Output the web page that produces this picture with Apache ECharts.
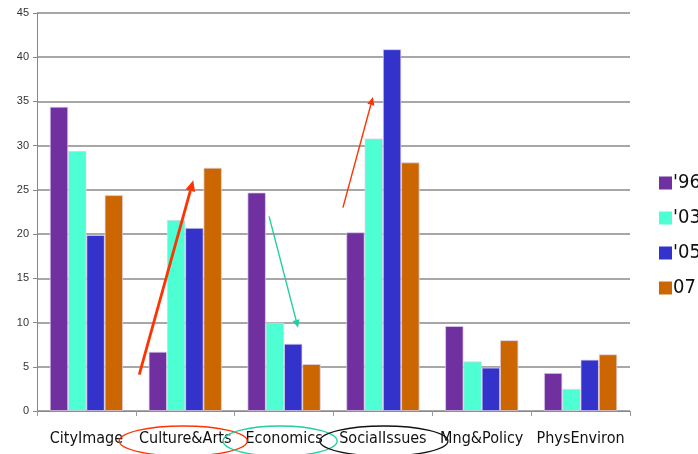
<!DOCTYPE html>
<html><head><meta charset="utf-8">
<script src="https://cdn.jsdelivr.net/npm/echarts@6/dist/echarts.min.js"></script>
<style>html,body{margin:0;padding:0;background:#fff}#c{width:698px;height:454px}</style>
</head><body><div id="c"></div>
<script>
const categories = ['CityImage','Culture&Arts','Economics','SocialIssues','Mng&Policy','PhysEnviron'];
const seriesNames = ["'96","'03","'05","07"];
const s96 = [34.4, 6.7, 24.7, 20.2, 9.6, 4.3];
const s03 = [29.4, 21.6, 10.0, 30.8, 5.6, 2.5];
const s05 = [19.9, 20.7, 7.6, 40.9, 4.9, 5.8];
const s07 = [24.4, 27.5, 5.3, 28.1, 8.0, 6.4];
const yTicks = [0,5,10,15,20,25,30,35,40,45];

const colors = ['#7030A0','#4DFFD2','#3333CC','#CC6600'];
const font = '"Liberation Sans Narrow","DejaVu Sans Condensed","Liberation Sans",Arial,sans-serif';
const chart = echarts.init(document.getElementById('c'));
const data = [s96,s03,s05,s07];
chart.setOption({
  animation:false,
  color:colors,
  grid:{left:37,right:68,top:13,bottom:43},
  legend:{orient:'vertical',left:654,top:168,itemWidth:13,itemHeight:13,itemGap:15,
    icon:'rect',itemStyle:{borderWidth:0},
    textStyle:{fontSize:20,lineHeight:20,color:'#111',fontFamily:font,padding:[0,0,0,-4]}},
  xAxis:{type:'category',data:categories,
    axisLine:{lineStyle:{color:'#888'}},
    axisTick:{show:true,interval:0,length:5,lineStyle:{color:'#999'}},
    axisLabel:{interval:0,fontSize:16,color:'#111',fontFamily:font,margin:20}},
  yAxis:{type:'value',min:yTicks[0],max:yTicks[yTicks.length-1],interval:5,
    axisLine:{show:true,lineStyle:{color:'#888'}},
    axisTick:{show:true,length:4,lineStyle:{color:'#888'}},
    axisLabel:{fontSize:11,color:'#333',fontFamily:'"Liberation Sans",Arial,sans-serif',margin:8},
    splitLine:{lineStyle:{color:'#8a8a8a',width:1.5}}},
  series:data.map((d,i)=>({name:seriesNames[i],type:'bar',data:d,barGap:'0%',barCategoryGap:'26%',
    itemStyle:{borderColor:'rgba(220,210,235,0.9)',borderWidth:0.8}}))
});

function px(cat,val){return chart.convertToPixel({xAxisIndex:0,yAxisIndex:0},[cat,val]);}
function arrow(cat,x0,v0,x1,v1,color,w,head){
  const a=px(cat,v0), b=px(cat,v1);
  const p0=[a[0]+x0,a[1]], p1=[b[0]+x1,b[1]];
  const ang=Math.atan2(p1[1]-p0[1],p1[0]-p0[0]);
  const h=head, hw=head*0.45;
  const base=[p1[0]-h*Math.cos(ang),p1[1]-h*Math.sin(ang)];
  const l=[base[0]+hw*Math.sin(ang),base[1]-hw*Math.cos(ang)];
  const r=[base[0]-hw*Math.sin(ang),base[1]+hw*Math.cos(ang)];
  return [
    {type:'line',shape:{x1:p0[0],y1:p0[1],x2:base[0],y2:base[1]},style:{stroke:color,lineWidth:w},z:100},
    {type:'polygon',shape:{points:[p1,l,r]},style:{fill:color},z:100}
  ];
}
function ell(cat,dx,cy,rx,ry,color){
  const c=px(cat,0);
  return {type:'ellipse',shape:{cx:c[0]+dx,cy:cy,rx:rx,ry:ry},style:{fill:null,stroke:color,lineWidth:1.3},z:100};
}
const g=[].concat(
  arrow(1,-46,4.1,8,26.1,'#FF3300',2.8,11),
  arrow(3,-40,23.0,-10,35.5,'#FF3300',1.4,8),
  arrow(2,-15,22.0,14,9.4,'#1FCFA0',1.4,8),
  [ell(1,-2,441,64,15,'#FF3300'), ell(2,-4,441,57,15,'#1FCFA0'), ell(3,1,441,64,15,'#111')]
);
chart.setOption({graphic:g});
</script></body></html>
